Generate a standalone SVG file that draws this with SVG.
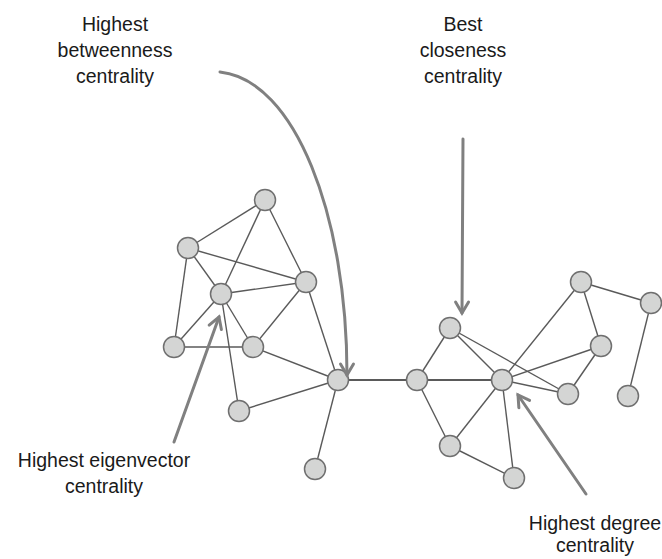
<svg xmlns="http://www.w3.org/2000/svg" width="662" height="559" viewBox="0 0 662 559">
<style>
.node circle{fill:#d4d5d4;stroke:#6f6f6f;stroke-width:1.5}
.edges line{stroke:#5a5a5a;stroke-width:1.4}
.arrow{fill:none;stroke:#808080;stroke-width:3;stroke-linecap:round}
.lbl{font-family:"Liberation Sans",Arial,sans-serif;font-size:19.5px;fill:#1a1a1a;text-anchor:middle}
</style>
<defs>
<marker id="ah" markerUnits="userSpaceOnUse" markerWidth="20" markerHeight="20" viewBox="-14 -10 16 20" refX="0" refY="0" orient="auto">
<path d="M -11 -6.5 L 0 0 L -11 6.5" fill="none" stroke="#808080" stroke-width="3" stroke-linecap="round" stroke-linejoin="miter"/>
</marker>
</defs>
<rect width="662" height="559" fill="#fff"/>
<g id="edges" class="edges">
<line x1="265" y1="200" x2="188" y2="248"/>
<line x1="265" y1="200" x2="221" y2="294"/>
<line x1="265" y1="200" x2="306" y2="282"/>
<line x1="188" y1="248" x2="221" y2="294"/>
<line x1="188" y1="248" x2="306" y2="282"/>
<line x1="188" y1="248" x2="174" y2="347"/>
<line x1="221" y1="294" x2="306" y2="282"/>
<line x1="221" y1="294" x2="174" y2="347"/>
<line x1="221" y1="294" x2="253" y2="347"/>
<line x1="221" y1="294" x2="239" y2="411"/>
<line x1="174" y1="347" x2="253" y2="347"/>
<line x1="306" y1="282" x2="253" y2="347"/>
<line x1="306" y1="282" x2="338" y2="380"/>
<line x1="253" y1="347" x2="338" y2="380"/>
<line x1="338" y1="380" x2="239" y2="411"/>
<line x1="338" y1="380" x2="315" y2="469"/>
<line x1="338" y1="380" x2="417" y2="380" style="stroke-width:2"/>
<line x1="417" y1="380" x2="450" y2="328"/>
<line x1="417" y1="380" x2="502" y2="380" style="stroke-width:1.8"/>
<line x1="417" y1="380" x2="450" y2="446"/>
<line x1="450" y1="328" x2="502" y2="380"/>
<line x1="450" y1="328" x2="568" y2="394"/>
<line x1="502" y1="380" x2="581" y2="282"/>
<line x1="502" y1="380" x2="601" y2="346"/>
<line x1="502" y1="380" x2="568" y2="394"/>
<line x1="502" y1="380" x2="450" y2="446"/>
<line x1="502" y1="380" x2="514" y2="478"/>
<line x1="450" y1="446" x2="514" y2="478"/>
<line x1="581" y1="282" x2="601" y2="346"/>
<line x1="601" y1="346" x2="568" y2="394"/>
<line x1="581" y1="282" x2="651" y2="303"/>
<line x1="651" y1="303" x2="628" y2="396"/>
</g>
<g id="nodes">
<g id="n1" class="node"><circle cx="265" cy="200" r="10.5"/></g>
<g id="n2" class="node"><circle cx="188" cy="248" r="10.5"/></g>
<g id="n3" class="node"><circle cx="221" cy="294" r="10.5"/></g>
<g id="n4" class="node"><circle cx="306" cy="282" r="10.5"/></g>
<g id="n5" class="node"><circle cx="174" cy="347" r="10.5"/></g>
<g id="n6" class="node"><circle cx="253" cy="347" r="10.5"/></g>
<g id="n7" class="node"><circle cx="338" cy="380" r="10.5"/></g>
<g id="n8" class="node"><circle cx="239" cy="411" r="10.5"/></g>
<g id="n9" class="node"><circle cx="315" cy="469" r="10.5"/></g>
<g id="n10" class="node"><circle cx="450" cy="328" r="10.5"/></g>
<g id="n11" class="node"><circle cx="417" cy="380" r="10.5"/></g>
<g id="n12" class="node"><circle cx="502" cy="380" r="10.5"/></g>
<g id="n13" class="node"><circle cx="450" cy="446" r="10.5"/></g>
<g id="n14" class="node"><circle cx="514" cy="478" r="10.5"/></g>
<g id="n15" class="node"><circle cx="581" cy="282" r="10.5"/></g>
<g id="n16" class="node"><circle cx="651" cy="303" r="10.5"/></g>
<g id="n17" class="node"><circle cx="601" cy="346" r="10.5"/></g>
<g id="n18" class="node"><circle cx="568" cy="394" r="10.5"/></g>
<g id="n19" class="node"><circle cx="628" cy="396" r="10.5"/></g>
</g>
<g id="arrows">
<path class="arrow" d="M 220 72 C 295 80, 347 215, 347 375" marker-end="url(#ah)"/>
<path class="arrow" d="M 463 139 L 462 313" marker-end="url(#ah)"/>
<path class="arrow" d="M 174 442 L 219 317" marker-end="url(#ah)"/>
<path class="arrow" d="M 586 494 L 518 395" marker-end="url(#ah)"/>
</g>
<g id="labels">
<text class="lbl" x="115" y="31">Highest</text>
<text class="lbl" x="115" y="57">betweenness</text>
<text class="lbl" x="115" y="83">centrality</text>
<text class="lbl" x="463" y="31">Best</text>
<text class="lbl" x="463" y="57">closeness</text>
<text class="lbl" x="463" y="83">centrality</text>
<text class="lbl" x="104" y="467">Highest eigenvector</text>
<text class="lbl" x="104" y="493">centrality</text>
<text class="lbl" x="595" y="530">Highest degree</text>
<text class="lbl" x="595" y="552">centrality</text>
</g>
</svg>
